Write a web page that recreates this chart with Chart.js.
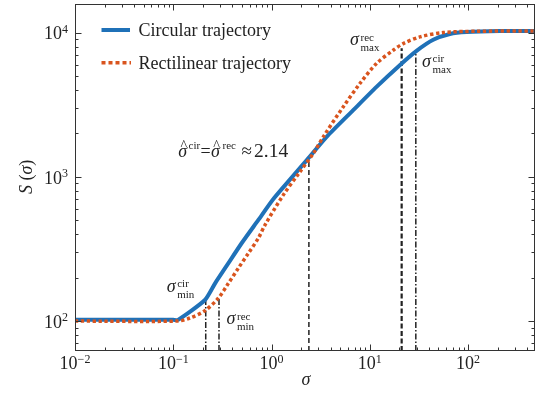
<!DOCTYPE html>
<html>
<head>
<meta charset="utf-8">
<script src="https://cdn.jsdelivr.net/npm/chart.js@4.4.0/dist/chart.umd.min.js"></script>
<style>
  html, body { margin: 0; padding: 0; background: #fff; }
</style>
</head>
<body>
<canvas id="chart" width="536" height="394"></canvas>
<script>
// ── Data ──────────────────────────────────────────────
const sigmaCir = [0.01, 0.1, 0.112, 0.21, 0.2655, 0.3627, 0.494, 0.732, 1.04, 2.24, 3.635, 6.78, 11.7, 20.2, 29.9, 44.2, 65.3, 96.5, 210, 480];
const sCir     = [102, 102, 102, 140, 182, 251, 345, 501, 700, 1285, 1892, 2899, 4204, 5942, 7470, 8920, 9790, 10100, 10250, 10250];

const sigmaRec = [0.01, 0.11, 0.148, 0.21, 0.287, 0.3627, 0.458, 0.579, 0.732, 0.857, 1.315, 1.945, 2.66, 3.36, 5.36, 7.93, 11.7, 17.3, 21.9, 32.3, 55.8, 122, 480];
const sRec     = [100, 100, 105, 118, 144, 182, 232, 294, 374, 463, 747, 1083, 1453, 1893, 3055, 4436, 6109, 7551, 8398, 9338, 10016, 10225, 10250];

// vertical markers: sigma position, height reached, line style
const markerNames = ["cirMin", "recMin", "cross", "recMax", "cirMax"];
const markerSigma = [0.214, 0.292, 2.4, 21.1, 29.4];
const markerTop   = [140, 146, 1300, 7800, 7500];
const markerStyle = ["dashdot", "dashdot", "dash", "dashBold", "dashdot"];

const xMin = 0.01, xMax = 480;
const yMin = 62,   yMax = 15800;
const xDecades = [-2, -1, 0, 1, 2];
const yDecades = [1, 2, 3, 4];

const BLUE = "#1f71b8";
const RED  = "#d9541e";
const INK  = "#222";
const SERIF = "'Liberation Serif', 'Times New Roman', serif";

Chart.defaults.font.family = SERIF;

// ── Helpers ───────────────────────────────────────────
function pts(xs, ys) { return xs.map((v, i) => ({ x: v, y: ys[i] })); }

function logTicks(decades, lo, hi) {
  const out = [];
  decades.forEach(d => {
    for (let m = 1; m <= 9; m++) {
      const v = m * Math.pow(10, d);
      if (v >= lo && v <= hi) out.push({ value: v, major: m === 1 });
    }
  });
  return out;
}

const dashFor = {
  dash:     { dash: [5, 3], w: 1.5 },
  dashBold: { dash: [5, 2.5], w: 2.2 },
  dashdot:  { dash: [6, 2, 1.5, 2], w: 1.5 }
};

const markerSets = markerNames.map((n, i) => ({
  label: n,
  data: [{ x: markerSigma[i], y: yMin }, { x: markerSigma[i], y: markerTop[i] }],
  borderColor: INK,
  borderWidth: dashFor[markerStyle[i]].w,
  borderDash: dashFor[markerStyle[i]].dash,
  pointRadius: 0,
  order: 3
}));

// ── Decorations: frame, inward ticks, labels, legend ──
function txt(ctx, s, x, y, size, italic, align) {
  ctx.font = (italic ? "italic " : "") + size + "px " + SERIF;
  ctx.textAlign = align || "left";
  ctx.fillText(s, x, y);
  return ctx.measureText(s).width;
}

function pow10(ctx, exp, x, y, align) {
  ctx.font = "18px " + SERIF;
  const wb = ctx.measureText("10").width;
  ctx.font = "12px " + SERIF;
  const we = ctx.measureText(exp).width;
  const w = wb + we;
  const left = align === "right" ? x - w : x - w / 2;
  txt(ctx, "10", left, y, 18);
  txt(ctx, exp, left + wb, y - 6.5, 12);
}

function sigLabel(ctx, x, y, sup, sub) {
  txt(ctx, "σ", x, y, 18, true);
  txt(ctx, sup, x + 10.5, y - 4.5, 11);
  txt(ctx, sub, x + 10.5, y + 6, 11);
}

const deco = {
  id: "deco",
  afterDraw(chart) {
    const ctx = chart.ctx, a = chart.chartArea;
    const sx = chart.scales.x, sy = chart.scales.y;
    ctx.save();
    ctx.strokeStyle = "#333";
    ctx.fillStyle = "#222";
    ctx.lineWidth = 1;
    ctx.strokeRect(a.left + 0.5, a.top + 0.5, a.right - a.left - 1, a.bottom - a.top - 1);

    ctx.beginPath();
    sx.ticks.forEach(t => {
      const p = Math.round(sx.getPixelForValue(t.value)) + 0.5;
      const L = t.major ? 6.5 : 3.5;
      ctx.moveTo(p, a.bottom); ctx.lineTo(p, a.bottom - L);
      ctx.moveTo(p, a.top);    ctx.lineTo(p, a.top + L);
    });
    sy.ticks.forEach(t => {
      const p = Math.round(sy.getPixelForValue(t.value)) + 0.5;
      const L = t.major ? 6.5 : 3.5;
      ctx.moveTo(a.left, p);  ctx.lineTo(a.left + L, p);
      ctx.moveTo(a.right, p); ctx.lineTo(a.right - L, p);
    });
    ctx.stroke();

    ctx.textBaseline = "alphabetic";
    xDecades.forEach(d => {
      pow10(ctx, d < 0 ? "−" + (-d) : String(d), sx.getPixelForValue(Math.pow(10, d)), a.bottom + 18, "center");
    });
    yDecades.forEach(d => {
      const v = Math.pow(10, d);
      if (v < yMin) return;
      pow10(ctx, String(d), a.left - 7, sy.getPixelForValue(v) + 6.8, "right");
    });

    // axis titles
    txt(ctx, "σ", (a.left + a.right) / 2 + 1, 385, 18, true, "center");
    ctx.save();
    ctx.translate(31.5, 194);
    ctx.rotate(-Math.PI / 2);
    let cx = 0;
    cx += txt(ctx, "S", cx, 0, 18, true);
    cx += txt(ctx, " (", cx, 0, 18);
    cx += txt(ctx, "σ", cx, 0, 18, true);
    txt(ctx, ")", cx, 0, 18);
    ctx.restore();

    // legend
    ctx.lineWidth = 4;
    ctx.strokeStyle = BLUE;
    ctx.beginPath(); ctx.moveTo(a.left + 26.5, 30); ctx.lineTo(a.left + 55, 30); ctx.stroke();
    ctx.strokeStyle = RED;
    ctx.lineWidth = 3.5;
    ctx.setLineDash([4, 3]);
    ctx.beginPath(); ctx.moveTo(a.left + 26.5, 62.7); ctx.lineTo(a.left + 56, 62.7); ctx.stroke();
    ctx.setLineDash([]);
    txt(ctx, "Circular trajectory", a.left + 63.5, 36, 18);
    txt(ctx, "Rectilinear trajectory", a.left + 63.5, 69.3, 18);

    // annotations
    sigLabel(ctx, 166.7, 291.7, "cir", "min");
    sigLabel(ctx, 226.5, 324, "rec", "min");
    sigLabel(ctx, 350, 45, "rec", "max");
    sigLabel(ctx, 422, 66.5, "cir", "max");

    const by = 156.7;
    txt(ctx, "σ", 178.3, by, 18, true);
    txt(ctx, "^", 183.8, by - 7, 14, false, "center");
    txt(ctx, "cir", 188.5, by - 8, 11);
    txt(ctx, "=", 200.5, by, 18);
    txt(ctx, "σ", 211, by, 18, true);
    txt(ctx, "^", 216.5, by - 7, 14, false, "center");
    txt(ctx, "rec", 222.5, by - 8, 11);
    txt(ctx, "≈", 241.5, by, 19);
    txt(ctx, "2.14", 254, by, 19.5);
    ctx.restore();
  }
};

// ── Chart ─────────────────────────────────────────────
new Chart(document.getElementById("chart"), {
  type: "line",
  data: {
    datasets: [
      {
        label: "Rectilinear trajectory",
        data: pts(sigmaRec, sRec),
        borderColor: RED,
        borderWidth: 3.5,
        borderDash: [3.3, 2.6],
        pointRadius: 0,
        tension: 0.3,
        order: 1
      },
      {
        label: "Circular trajectory",
        data: pts(sigmaCir, sCir),
        borderColor: BLUE,
        borderWidth: 4,
        pointRadius: 0,
        tension: 0.2,
        order: 2
      },
      ...markerSets
    ]
  },
  options: {
    responsive: false,
    animation: false,
    layout: { padding: { top: 4, right: 1, left: 0, bottom: 0 } },
    plugins: { legend: { display: false }, tooltip: { enabled: false } },
    scales: {
      x: {
        type: "logarithmic", min: xMin, max: xMax,
        grid: { display: false }, border: { display: false }, ticks: { display: false },
        afterBuildTicks: s => { s.ticks = logTicks(xDecades, xMin, xMax); },
        afterFit: s => { s.height = 43; }
      },
      y: {
        type: "logarithmic", min: yMin, max: yMax,
        grid: { display: false }, border: { display: false }, ticks: { display: false },
        afterBuildTicks: s => { s.ticks = logTicks(yDecades, yMin, yMax); },
        afterFit: s => { s.width = 75; }
      }
    }
  },
  plugins: [deco]
});
</script>
</body>
</html>
